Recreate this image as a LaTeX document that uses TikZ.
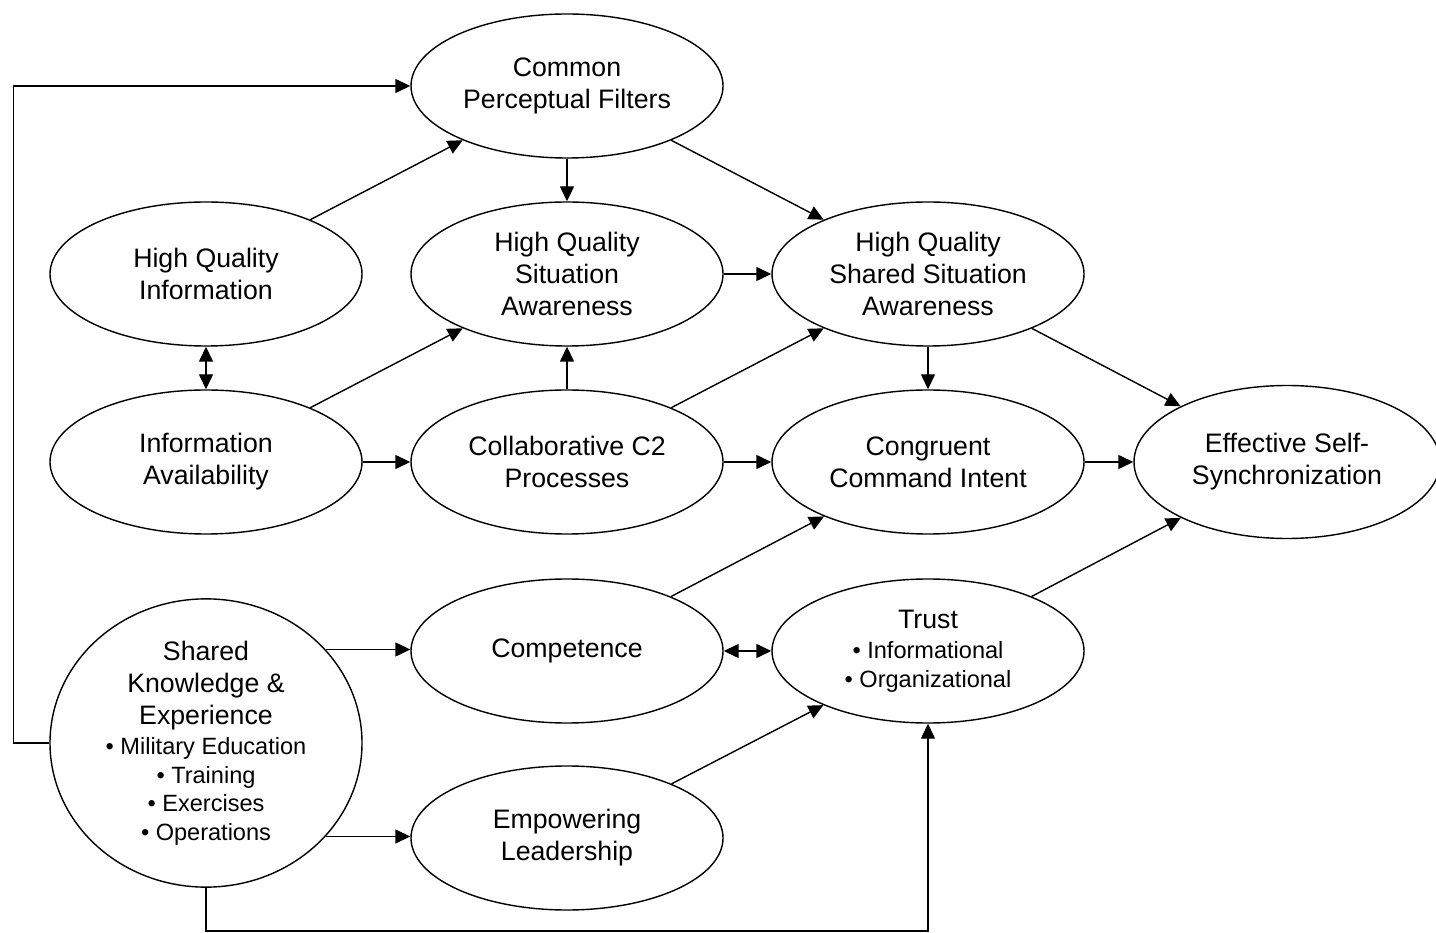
\documentclass[tikz,border=0pt]{standalone}
\usepackage{fontspec}
\setmainfont{Liberation Sans}
\usetikzlibrary{shapes.geometric,arrows.meta}
\newcommand{\bitem}[1]{{\fontsize{13.4}{16}\selectfont\textbullet\ #1}}

\begin{document}
\begin{tikzpicture}[
    oval/.style={ellipse, draw, line width=0.8pt, minimum width=6.24cm, minimum height=2.88cm,
      inner sep=0pt, align=center, font=\fontsize{15.2}{18.2}\selectfont},
    link/.style={-{Triangle[length=0.3cm,width=0.28cm]}, line width=0.8pt},
    both/.style={{Triangle[length=0.3cm,width=0.28cm]}-{Triangle[length=0.3cm,width=0.28cm]}, line width=0.8pt}]
  \useasboundingbox (0,0) rectangle (28.72,-18.66);

  % ovals
  \node[oval] (cpf) at (11.34,-1.72) {Common\\Perceptual Filters};
  \node[oval] (hqi) at (4.12,-5.48) {High Quality\\Information};
  \node[oval] (hqsa) at (11.34,-5.48) {High Quality\\Situation\\Awareness};
  \node[oval] (hqssa) at (18.56,-5.48) {High Quality\\Shared Situation\\Awareness};
  \node[oval] (ia) at (4.12,-9.24) {Information\\Availability};
  \node[oval] (collab) at (11.34,-9.24) {Collaborative C2\\Processes};
  \node[oval] (cci) at (18.56,-9.24) {Congruent\\Command Intent};
  \node[oval, minimum width=6.12cm, minimum height=3.06cm] (ess) at (25.74,-9.24) {Effective Self-\\Synchronization};
  \node[oval] (comp) at (11.34,-13.02) {Competence};
  \node[oval] (trust) at (18.56,-13.02) {Trust\\[-1pt]\bitem{Informational}\\[-2pt]\bitem{Organizational}};
  \node[oval] (lead) at (11.34,-16.76) {Empowering\\Leadership};
  \node[oval, minimum height=5.6cm] (skx) at (4.12,-14.86)
    {Shared\\Knowledge \&\\Experience\\[-1pt]\bitem{Military Education}\\[-2pt]\bitem{Training}\\[-2pt]\bitem{Exercises}\\[-2pt]\bitem{Operations}};
  \coordinate (low) at (4.12,-18.62);

  % links
  \draw[link] (hqi) -- (cpf);
  \draw[link] (cpf) -- (hqsa);
  \draw[link] (cpf) -- (hqssa);
  \draw[link] (hqsa) -- (hqssa);
  \draw[both] (hqi) -- (ia);
  \draw[link] (ia) -- (hqsa);
  \draw[link] (ia) -- (collab);
  \draw[link] (collab) -- (hqsa);
  \draw[link] (collab) -- (hqssa);
  \draw[link] (collab) -- (cci);
  \draw[link] (hqssa) -- (cci);
  \draw[link] (hqssa) -- (ess);
  \draw[link] (cci) -- (ess);
  \draw[link] (comp) -- (cci);
  \draw[both] (comp) -- (trust);
  \draw[link] (trust) -- (ess);
  \draw[link] (lead) -- (trust);
  \draw[link] (skx.38) -- (skx.38 -| comp.west);
  \draw[link] (skx.-38) -- (skx.-38 -| lead.west);
  \draw[link] (skx.south) -- (low) -| (trust.south);
  \draw[link] (skx.west) -- ++(-0.72,0) |- (cpf.west);
\end{tikzpicture}
\end{document}
